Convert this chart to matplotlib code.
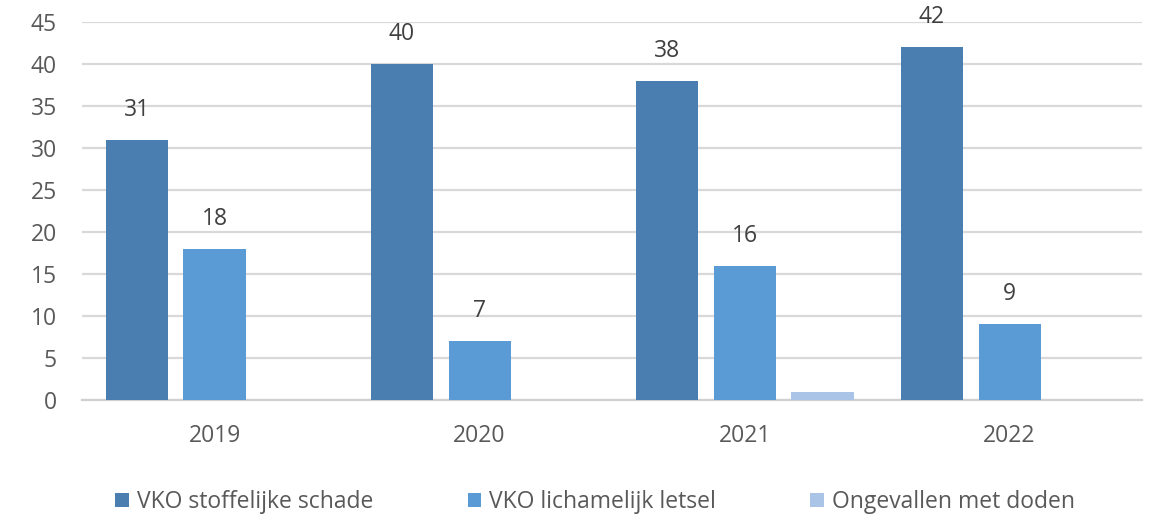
import numpy as np
import matplotlib.pyplot as plt

# Data
years = ['2019', '2020', '2021', '2022']
stoffelijk = [31, 40, 38, 42]
letsel = [18, 7, 16, 9]
doden = [0, 0, 1, 0]

series_names = ['VKO stoffelijke schade', 'VKO lichamelijk letsel', 'Ongevallen met doden']
colors = ['#4A7EB0', '#5B9BD5', '#A9C4E6']

plt.rcParams['font.family'] = ['Open Sans', 'DejaVu Sans']

fig = plt.figure(figsize=(11.58, 5.19), dpi=100)
ax = fig.add_axes([0.0708, 0.2293, 0.9155, 0.7283])

x = np.arange(len(years))
width = 0.234
offset = 0.294

b1 = ax.bar(x - offset, stoffelijk, width, color=colors[0], label=series_names[0], zorder=3)
b2 = ax.bar(x, letsel, width, color=colors[1], label=series_names[1], zorder=3)
b3 = ax.bar(x + offset, doden, width, color=colors[2], label=series_names[2], zorder=3)

# data labels for the first two series
for bars in (b1, b2):
    for rect in bars:
        h = rect.get_height()
        ax.annotate(f'{h:g}', (rect.get_x() + rect.get_width() / 2, h),
                    xytext=(0, 13), textcoords='offset points',
                    ha='center', va='bottom', fontsize=16.5, color='#404040')

ax.set_xlim(-0.5, len(years) - 0.5)
ax.set_ylim(0, 45)
ax.set_yticks(range(0, 46, 5))
ax.set_xticks(x)
ax.set_xticklabels(years)

ax.yaxis.grid(True, color='#D9D9D9', linewidth=1.6, zorder=0)
ax.set_axisbelow(True)
for side in ['top', 'right', 'left']:
    ax.spines[side].set_visible(False)
ax.spines['bottom'].set_color('#D0D0D0')
ax.spines['bottom'].set_linewidth(1.6)

ax.tick_params(axis='both', length=0, labelsize=16.5, labelcolor='#595959')
ax.tick_params(axis='y', pad=18)
ax.tick_params(axis='x', pad=17)

fig.legend(loc='lower center', bbox_to_anchor=(0.514, -0.03), ncol=3, frameon=False,
           fontsize=16.5, handlelength=0.6, handleheight=0.6, handletextpad=0.35,
           columnspacing=4.1, labelcolor='#595959')

fig.savefig('out.png', dpi=100)
